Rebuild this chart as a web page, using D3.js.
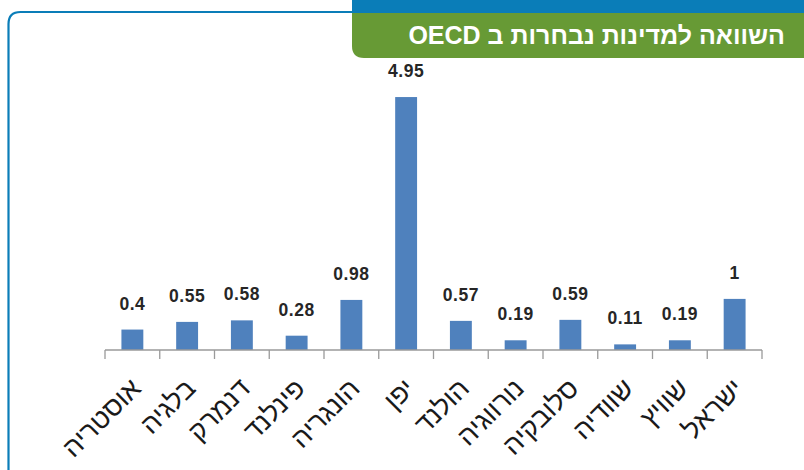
<!DOCTYPE html>
<html>
<head>
<meta charset="utf-8">
<script src="https://cdn.jsdelivr.net/npm/d3@7"></script>
<style>
  html, body { margin: 0; padding: 0; background: #fff; }
  svg { display: block; }
</style>
</head>
<body>
<script>
const categories = ["אוסטריה", "בלגיה", "דנמרק", "פינלנד", "הונגריה", "יפן", "הולנד", "נורווגיה", "סלובקיה", "שוודיה", "שוויץ", "ישראל"];
const values = [0.4, 0.55, 0.58, 0.28, 0.98, 4.95, 0.57, 0.19, 0.59, 0.11, 0.19, 1];
const valueLabels = ["0.4", "0.55", "0.58", "0.28", "0.98", "4.95", "0.57", "0.19", "0.59", "0.11", "0.19", "1"];
const subtitle = "השוואה למדינות נבחרות ב OECD";

const W = 804, H = 470;
const svg = d3.select("body").append("svg").attr("width", W).attr("height", H);

const blue = "#0a7db8", green = "#679a35", barColor = "#4f81bd";

// frame: top line + left edge with rounded corner
svg.append("path")
  .attr("d", `M 8.5 ${H} L 8.5 24 Q 8.5 12 20.5 12 L 360 12`)
  .attr("fill", "none").attr("stroke", blue).attr("stroke-width", 2.2);

// header blue bar
svg.append("rect").attr("x", 352).attr("y", 0).attr("width", W - 352).attr("height", 13).attr("fill", blue);
// green box with rounded bottom-left corner
svg.append("path")
  .attr("d", `M 352 13 L ${W} 13 L ${W} 58 L 364 58 Q 352 58 352 46 Z`)
  .attr("fill", green);
svg.append("text")
  .attr("x", 785).attr("y", 44)
  .attr("text-anchor", "end")
  .attr("font-family", "Liberation Sans, Arial, sans-serif")
  .attr("font-weight", "bold")
  .attr("font-size", 25)
  .attr("fill", "#fff")
  .text("\u202B" + subtitle + "\u202C");

// scales
const x = d3.scaleBand().domain(categories).range([105, 762]).padding(0);
const y = d3.scaleLinear().domain([0, 5]).range([350, 94.5]);
const barW = x.bandwidth() * 0.4;

// bars
svg.append("g").selectAll("rect").data(values).join("rect")
  .attr("x", (d, i) => x(categories[i]) + (x.bandwidth() - barW) / 2)
  .attr("y", d => y(d))
  .attr("width", barW)
  .attr("height", d => y(0) - y(d))
  .attr("fill", barColor);

// value labels
svg.append("g").selectAll("text").data(values).join("text")
  .attr("x", (d, i) => x(categories[i]) + x.bandwidth() / 2)
  .attr("y", d => y(d) - 20)
  .attr("text-anchor", "middle")
  .attr("font-family", "Liberation Sans, Arial, sans-serif")
  .attr("font-weight", "bold")
  .attr("font-size", 17.5)
  .attr("letter-spacing", 0.5)
  .attr("fill", "#262626")
  .text((d, i) => valueLabels[i]);

// axis
const axisG = svg.append("g");
axisG.append("line")
  .attr("x1", x.range()[0]).attr("x2", x.range()[1])
  .attr("y1", y(0)).attr("y2", y(0))
  .attr("stroke", "#9a9a9a").attr("stroke-width", 1.3);
const tickPos = categories.map(c => x(c)).concat([x.range()[1]]);
axisG.selectAll("line.tick").data(tickPos).join("line")
  .attr("class", "tick")
  .attr("x1", d => d).attr("x2", d => d)
  .attr("y1", y(0)).attr("y2", y(0) + 9)
  .attr("stroke", "#9a9a9a").attr("stroke-width", 1.3);

// category labels, rotated -45
svg.append("g").selectAll("text").data(categories).join("text")
  .attr("transform", d => `translate(${x(d) + x.bandwidth() / 2 + 10},${y(0) + 40}) rotate(-45)`)
  .attr("text-anchor", "end")
  .attr("font-family", "Liberation Sans, Arial, sans-serif")
  .attr("font-size", 27)
  .attr("fill", "#1a1a1a")
  .text(d => d);
</script>
</body>
</html>
